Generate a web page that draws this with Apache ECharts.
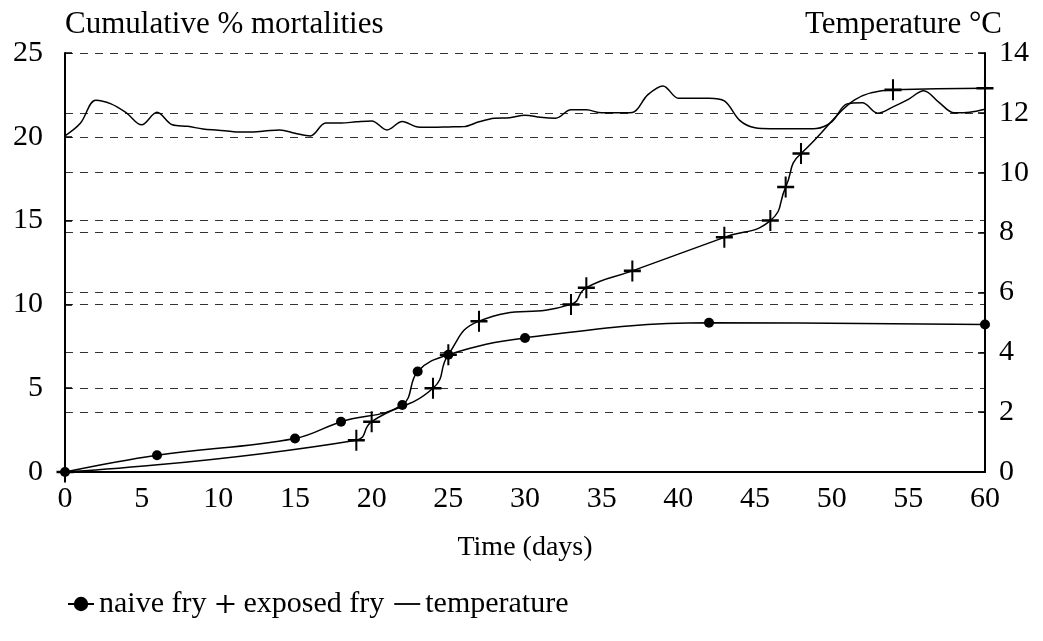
<!DOCTYPE html>
<html>
<head>
<meta charset="utf-8">
<script src="https://cdn.jsdelivr.net/npm/echarts@6/dist/echarts.min.js"></script>
<style>
html,body{margin:0;padding:0;background:#fff;}
#chart{width:1043px;height:641px;}
</style>
</head>
<body>
<div id="chart"></div>
<script>
// ---- Data ----
const naiveDays = [0, 6, 15, 18, 22, 23, 25, 30, 42, 60];
const naiveVals = [0, 1, 2, 3, 4, 6, 7, 8, 8.9, 8.8];

const exposedDays = [0, 19, 20, 24, 25, 27, 33, 34, 37, 43, 46, 47, 48, 54, 60];
const exposedVals = [0, 1.9, 3, 5, 7, 9, 10, 11, 12, 14, 15, 17, 19, 22.8, 22.9];

const tempDays = [0,1,2,3,4,5,6,7,8,9,10,11,12,13,14,15,16,17,18,19,20,
  21,22,23,24,25,26,27,28,29,30,31,32,33,34,35,36,37,38,39,40,
  41,42,43,44,45,46,47,48,49,50,51,52,53,54,55,56,57,58,59,60];
const tempVals = [11.23, 11.65, 12.42, 12.3, 12.0, 11.6, 12.02, 11.6, 11.55, 11.46, 11.42,
  11.37, 11.36, 11.39, 11.43, 11.32, 11.23, 11.66, 11.66, 11.7, 11.73,
  11.43, 11.71, 11.53, 11.52, 11.53, 11.54, 11.7, 11.82, 11.84, 11.92,
  11.85, 11.82, 12.1, 12.1, 12.0, 12.0, 12.01, 12.6, 12.9, 12.49,
  12.49, 12.49, 12.4, 11.75, 11.5, 11.47, 11.47, 11.47, 11.48, 11.7,
  12.3, 12.34, 11.99, 12.2, 12.45, 12.74, 12.35, 12.0, 12.02, 12.12];

const xTicks = {min: 0, max: 60, interval: 5};
const leftTicks = {min: 0, max: 25, interval: 5};
const rightTicks = {min: 0, max: 14, interval: 2};

// ---- Chart ----
const FONT = 'Liberation Serif';
const pair = (xs, ys) => xs.map((x, i) => [x, ys[i]]);
const plusPath = 'path://M4.4,0H5.6V4.4H10V5.6H5.6V10H4.4V5.6H0V4.4H4.4Z';
const dashIcon = 'path://M0,0H20V1.4H0Z';

const chart = echarts.init(document.getElementById('chart'), null, {renderer: 'canvas'});
const dashed = {show: true, lineStyle: {color: '#333', width: 1.2, type: [8, 7]}};

chart.setOption({
  animation: false,
  backgroundColor: '#fff',
  textStyle: {fontFamily: FONT, color: '#000'},
  grid: {left: 65, right: 58, top: 53, bottom: 169, containLabel: false},
  graphic: [
    {type: 'text', left: 65, top: 9, style: {text: 'Cumulative % mortalities', font: '31px "Liberation Serif"', fill: '#000'}},
    {type: 'text', right: 41, top: 9, style: {text: 'Temperature °C', font: '31px "Liberation Serif"', fill: '#000'}}
  ],
  legend: {
    left: 62, top: 584,
    itemWidth: 26, itemHeight: 18, itemGap: 10,
    symbolKeepAspect: true,
    textStyle: {fontFamily: FONT, fontSize: 30, color: '#000'},
    data: [
      {name: 'naive fry'},
      {name: 'exposed fry', icon: plusPath},
      {name: 'temperature', icon: dashIcon}
    ]
  },
  xAxis: {
    type: 'value', min: xTicks.min, max: xTicks.max, interval: xTicks.interval,
    name: 'Time (days)', nameLocation: 'middle', nameGap: 62,
    nameTextStyle: {fontFamily: FONT, fontSize: 28, color: '#000'},
    axisLine: {show: true, lineStyle: {color: '#000', width: 2}},
    axisTick: {show: false},
    axisLabel: {fontFamily: FONT, fontSize: 30, color: '#000', margin: 12},
    splitLine: {show: false}
  },
  yAxis: [
    {
      type: 'value', position: 'left', min: leftTicks.min, max: leftTicks.max, interval: leftTicks.interval,
      axisLine: {show: true, lineStyle: {color: '#000', width: 2}},
      axisTick: {show: true, inside: true, length: 7, lineStyle: {color: '#000', width: 1.5}},
      axisLabel: {fontFamily: FONT, fontSize: 30, color: '#000', margin: 22},
      splitLine: dashed
    },
    {
      type: 'value', position: 'right', min: rightTicks.min, max: rightTicks.max, interval: rightTicks.interval,
      axisLine: {show: true, lineStyle: {color: '#000', width: 2}},
      axisTick: {show: true, inside: true, length: 7, lineStyle: {color: '#000', width: 1.5}},
      axisLabel: {fontFamily: FONT, fontSize: 30, color: '#000', margin: 14},
      splitLine: dashed
    }
  ],
  series: [
    {
      name: 'naive fry', type: 'line', yAxisIndex: 0,
      data: pair(naiveDays, naiveVals),
      smooth: 0.4, symbol: 'circle', symbolSize: 10, showAllSymbol: true, clip: false,
      lineStyle: {color: '#000', width: 1.5},
      itemStyle: {color: '#000'}
    },
    {
      name: 'exposed fry', type: 'line', yAxisIndex: 0,
      data: pair(exposedDays, exposedVals),
      smooth: 0.5, symbol: plusPath, symbolSize: [17, 21], showAllSymbol: true, clip: false,
      lineStyle: {color: '#000', width: 1.5},
      itemStyle: {color: '#000'}
    },
    {
      name: 'temperature', type: 'line', yAxisIndex: 1,
      data: pair(tempDays, tempVals),
      smooth: 0.35, symbol: 'none',
      lineStyle: {color: '#000', width: 1.5},
      itemStyle: {color: '#000'}
    }
  ]
});
</script>
</body>
</html>
